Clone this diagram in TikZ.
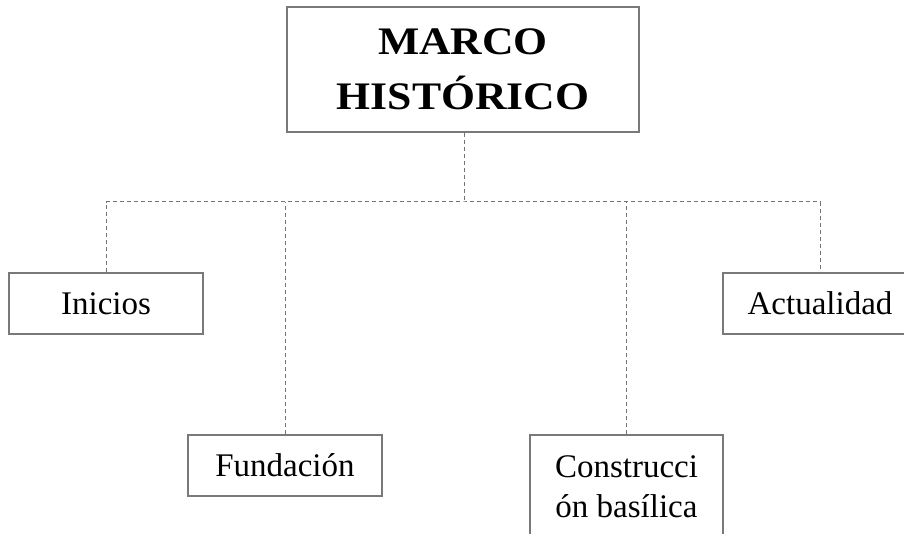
\documentclass[tikz,border=0pt]{standalone}
\usepackage{fontspec}
\setmainfont{Liberation Serif}
\begin{document}
\begin{tikzpicture}[x=1pt,y=-1pt,
  box/.style={draw=gray!95!black,line width=1.8pt,fill=white,inner sep=0pt,align=center,text=black},
  leafbox/.style={box,minimum width=194pt,minimum height=61pt,font=\fontsize{33}{40}\selectfont},
  link/.style={draw=gray!90!black,line width=1pt,dash pattern=on 4pt off 3pt}]
\useasboundingbox (0,0) rectangle (904,534);
\clip (0,0) rectangle (904,534);
\fill[white] (0,0) rectangle (904,534);
\node[box,minimum width=352pt,minimum height=125pt,font=\fontsize{39}{55}\selectfont\bfseries] (top) at (463,69.5) {\scalebox{1.12}[1]{MARCO}\\\scalebox{1.12}[1]{HISTÓRICO}};
\node[leafbox] (ini) at (106,303.5) {Inicios};
\node[leafbox] (act) at (820,303.5) {Actualidad};
\node[leafbox] (fun) at (285,465.5) {Fundación};
\node[leafbox,minimum width=193pt,minimum height=104pt] (con) at (626.5,487) {Construcci\\ón basílica};
\coordinate (hub) at (464,202);
\draw[link] (top.south -| hub) -- (hub);
\draw[link] (ini.north) |- (hub) -| (act.north);
\draw[link] (fun.north) -- (fun.north |- hub);
\draw[link] (con.north) -- (con.north |- hub);
\end{tikzpicture}
\end{document}
